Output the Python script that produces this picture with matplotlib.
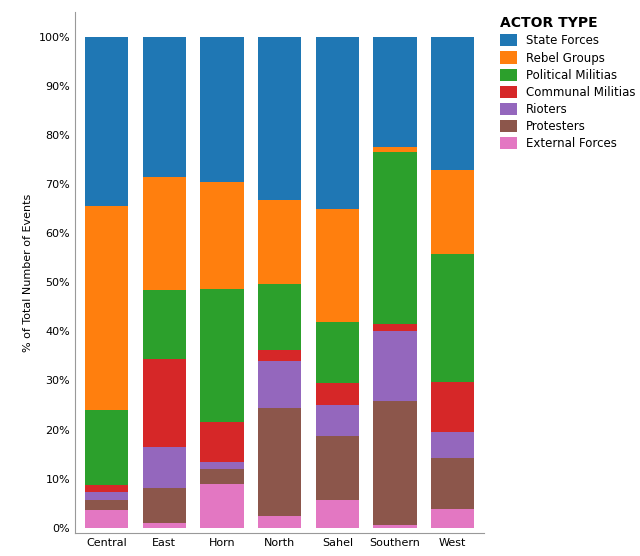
import matplotlib
matplotlib.use("Agg")
import matplotlib.pyplot as plt
import numpy as np

regions = ["Central", "East", "Horn", "North", "Sahel", "Southern", "West"]
actors = ["State Forces", "Rebel Groups", "Political Militias", "Communal Militias",
          "Rioters", "Protesters", "External Forces"]
colors = ["#1f77b4", "#ff7f0e", "#2ca02c", "#d62728", "#9467bd", "#8c564b", "#e377c2"]

# cumulative tops (bottom-up: external, protesters, rioters,
# communal, political, rebel); state forces fill to 100
external = [3.7, 1.0, 9.0, 2.3, 5.7, 0.6, 3.9]
protesters = [2.0, 7.0, 3.0, 22.0, 12.9, 25.3, 10.3]
rioters = [1.5, 8.5, 1.3, 9.7, 6.4, 14.1, 5.3]
communal = [1.6, 17.8, 8.2, 2.2, 4.5, 1.4, 10.1]
political = [15.2, 14.1, 27.1, 13.4, 12.5, 35.1, 26.1]
rebel = [41.5, 23.0, 21.8, 17.1, 23.0, 1.1, 17.2]
state = [100 - sum(v) for v in zip(external, protesters, rioters, communal, political, rebel)]

series = [state, rebel, political, communal, rioters, protesters, external]

fig = plt.figure(figsize=(6.4, 5.56), dpi=100)
ax = fig.add_axes([0.117, 0.042, 0.64, 0.936])

x = np.arange(len(regions))
bottom = np.zeros(len(regions))
for vals, col, lab in zip(series[::-1], colors[::-1], actors[::-1]):
    ax.bar(x, vals, bottom=bottom, width=0.75, color=col, label=lab)
    bottom += np.array(vals)

ax.set_xlim(-0.55, 6.55)
ax.set_ylim(-1, 105)
ax.set_yticks(range(0, 101, 10))
ax.set_yticklabels([f"{v}%" for v in range(0, 101, 10)], fontsize=8)
ax.set_xticks(x)
ax.set_xticklabels(regions, fontsize=8)
ax.set_ylabel("% of Total Number of Events", fontsize=8)
for s in ["top", "right"]:
    ax.spines[s].set_visible(False)
for s in ["left", "bottom"]:
    ax.spines[s].set_color("#999999")
ax.tick_params(length=0)

handles, labels = ax.get_legend_handles_labels()
leg = fig.legend(handles[::-1], labels[::-1], loc="upper left", bbox_to_anchor=(0.765, 0.99),
                 frameon=False, fontsize=8.5, handlelength=1.4, handleheight=1.2,
                 labelspacing=0.35, title="ACTOR TYPE")
leg.get_title().set_fontweight("bold")
leg.get_title().set_fontsize(10)
leg._legend_box.align = "left"

fig.savefig("out.png", dpi=100)
